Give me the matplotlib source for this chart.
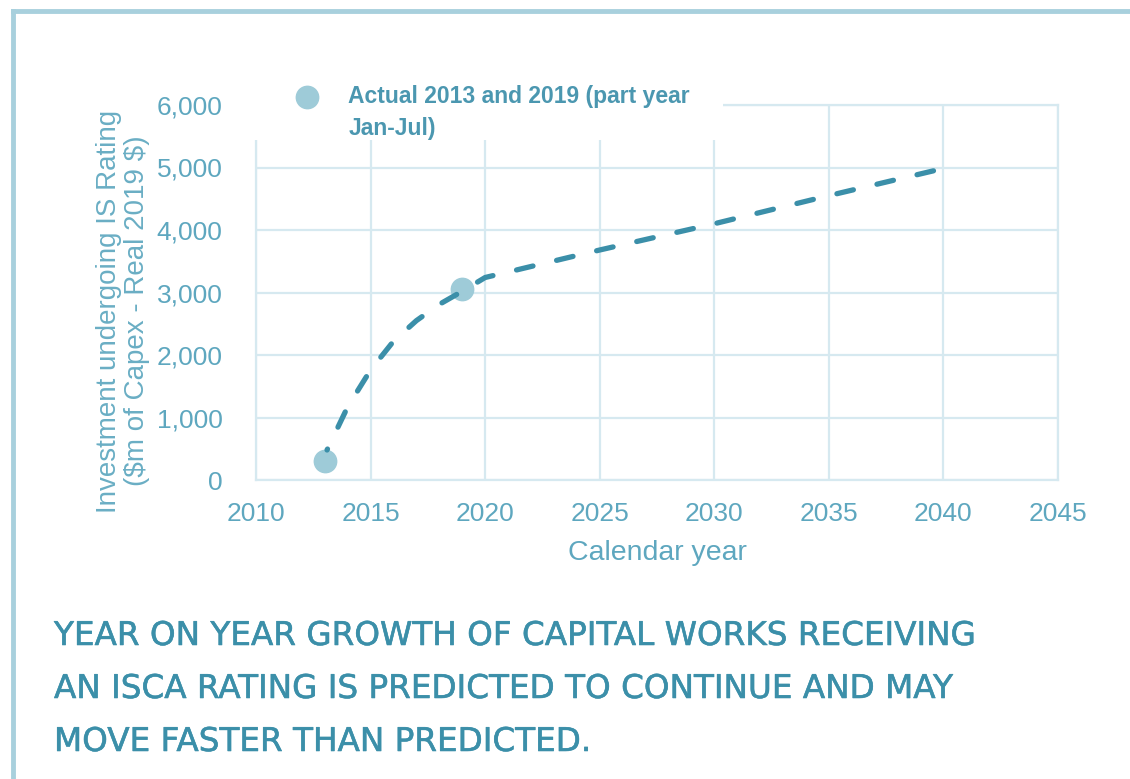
import matplotlib
matplotlib.use("Agg")
import matplotlib.pyplot as plt
import matplotlib.patheffects as pe
from matplotlib.lines import Line2D
from matplotlib.patches import Rectangle

# data
actual_years = [2013, 2019]
actual_vals = [300, 3050]
fc_years = [2013.1, 2014, 2015, 2016, 2017, 2018, 2019, 2020, 2025, 2030, 2035, 2039.6]
fc_vals = [480, 1170, 1760, 2220, 2550, 2810, 3020, 3240, 3680, 4100, 4550, 4950]
xticks = [2010, 2015, 2020, 2025, 2030, 2035, 2040, 2045]
yticks = [0, 1000, 2000, 3000, 4000, 5000, 6000]

teal = "#3b8fa9"
tick_col = "#5ea7bf"
grid_col = "#d6e9f0"
dot_col = "#9ecbd8"

plt.rcParams["font.family"] = ["Liberation Sans", "DejaVu Sans"]

fig = plt.figure(figsize=(11.3, 7.79), dpi=100)
ax = fig.add_axes([256/1130, 1-480/779, (1058-256)/1130, (480-105)/779])

ax.scatter(actual_years, actual_vals, s=260, color=dot_col, zorder=3, clip_on=False,
           label="Actual 2013 and 2019 (part year")
ax.plot(fc_years, fc_vals, color=teal, lw=3.8, ls=(3.0, (3.2, 4.6)),
        dash_capstyle="round", zorder=4)

ax.set_xlim(2010, 2045)
ax.set_ylim(0, 6000)
ax.set_xticks(xticks)
ax.set_yticks(yticks)
ax.set_yticklabels(["{:,}".format(v) for v in yticks])
ax.grid(True, color=grid_col, lw=1.6)
ax.set_axisbelow(True)
for s in ax.spines.values():
    s.set_color(grid_col)
    s.set_linewidth(1.6)
ax.tick_params(length=0, labelsize=19, labelcolor=tick_col)
ax.tick_params(axis="y", pad=24)
ax.tick_params(axis="x", pad=16)

ax.set_xlabel("Calendar year", fontsize=20.5, color=tick_col, va="center")
ax.xaxis.set_label_coords(0.5, (480-553)/375)
ax.set_ylabel("Investment undergoing IS Rating\n(\\$m of Capex - Real 2019 \\$)",
              fontsize=20, color="#6aaec4", linespacing=1.07, va="center", ha="center")
ax.yaxis.set_label_coords((123-256)/802, (480-311)/375)

# white box behind the legend, hides the top of the grid there
ax.add_patch(Rectangle((-0.004, 0.907), 0.586, 0.2, transform=ax.transAxes,
                       facecolor="white", edgecolor="none", zorder=2.8, clip_on=False))
leg = ax.legend(loc="upper left", bbox_to_anchor=((284-256)/802, (480-85)/375),
                frameon=False, fontsize=16.5, handlelength=2, handletextpad=0.8,
                borderpad=0, borderaxespad=0, scatterpoints=1)
lt = leg.get_texts()[0]
lt.set_color("#4b97b0")
lt.set_fontweight("bold")
ax.annotate("Jan-Jul)", xy=(0, 0), xycoords=lt, xytext=(0, -27),
            textcoords="offset pixels", va="baseline", ha="left", zorder=6,
            fontsize=16.5, fontweight="bold", color="#4b97b0")

# outer frame lines
fig.add_artist(Line2D([13/1130, 1], [1-11/779, 1-11/779], color="#a8d0dd", lw=3.5))
fig.add_artist(Line2D([13/1130, 13/1130], [0, 1-11/779], color="#a8d0dd", lw=3.5))

caption = ["YEAR ON YEAR GROWTH OF CAPITAL WORKS RECEIVING",
           "AN ISCA RATING IS PREDICTED TO CONTINUE AND MAY",
           "MOVE FASTER THAN PREDICTED."]
for i, line in enumerate(caption):
    fig.text(54/1130, 1-(645+53*i)/779, line, fontsize=23.5, color=teal,
             family="DejaVu Sans", va="baseline", ha="left",
             path_effects=[pe.withStroke(linewidth=0.4, foreground=teal)])

fig.savefig("out.png", dpi=100, facecolor="white")
